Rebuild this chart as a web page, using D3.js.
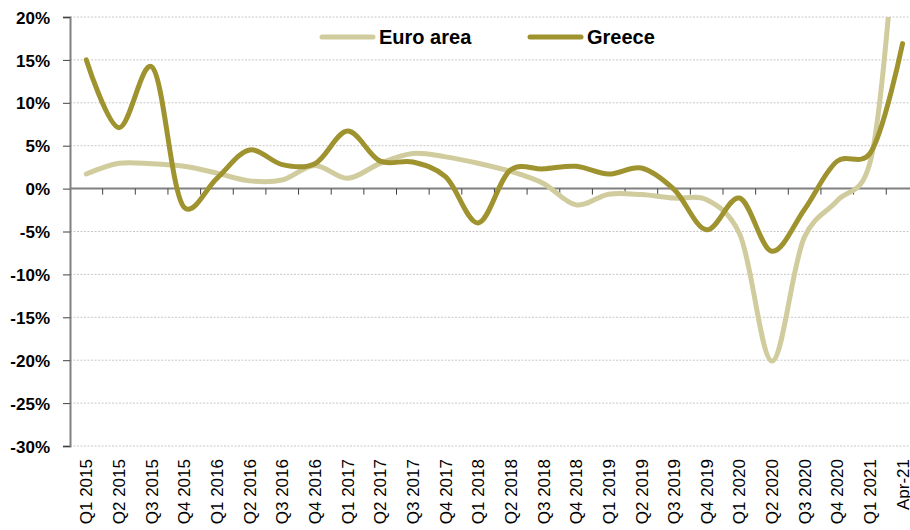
<!DOCTYPE html>
<html>
<head>
<meta charset="utf-8">
<script src="https://cdn.jsdelivr.net/npm/d3@7"></script>
<style>
  body { margin: 0; background: #fff; }
  svg { display: block; }
</style>
</head>
<body>
<div id="chart"></div>
<script>
// categories and series
var quarters = ["Q1 2015","Q2 2015","Q3 2015","Q4 2015","Q1 2016","Q2 2016","Q3 2016","Q4 2016",
  "Q1 2017","Q2 2017","Q3 2017","Q4 2017","Q1 2018","Q2 2018","Q3 2018","Q4 2018",
  "Q1 2019","Q2 2019","Q3 2019","Q4 2019","Q1 2020","Q2 2020","Q3 2020","Q4 2020",
  "Q1 2021","Apr-21"];

var euroArea = [1.7, 2.95, 2.9, 2.6, 1.8, 0.9, 1.0, 2.7, 1.2, 2.95, 4.1, 3.7, 2.95, 2.0, 0.6, -1.9,
  -0.65, -0.7, -1.1, -1.3, -5.2, -20.1, -5.6, -1.4, 3.0, 42];
var greece = [15.0, 7.1, 14.2, -2.2, 1.2, 4.5, 2.8, 2.9, 6.7, 3.2, 3.1, 1.4, -4.0, 2.2, 2.3, 2.6,
  1.7, 2.4, -0.1, -4.8, -1.1, -7.3, -2.4, 3.2, 4.1, 16.9];

var yTicks = [20, 15, 10, 5, 0, -5, -10, -15, -20, -25, -30];

var seriesNames = ["Euro area", "Greece"];
var seriesColors = ["#d1cc9d", "#9f932f"];

var width = 910, height = 530;
var plotLeft = 70, plotTop = 17, plotBottom = 446;
var bandW = 32.65;

var svg = d3.select("#chart").append("svg")
  .attr("width", width)
  .attr("height", height);

var x = d3.scaleBand()
  .domain(quarters)
  .range([plotLeft, plotLeft + bandW * quarters.length])
  .padding(0);

var y = d3.scaleLinear()
  .domain([-30, 20])
  .range([plotBottom, plotTop]);

function cx(d) { return x(d) + x.bandwidth() / 2; }

// gridlines
svg.append("g")
  .selectAll("line")
  .data(yTicks.filter(function(t) { return t != 0; }))
  .enter().append("line")
  .attr("x1", plotLeft)
  .attr("x2", width)
  .attr("y1", function(d) { return y(d); })
  .attr("y2", function(d) { return y(d); })
  .attr("stroke", "#c8c8c8")
  .attr("stroke-width", 1)
  .attr("stroke-dasharray", "2,1.5");

// y axis
var yAxis = d3.axisLeft(y)
  .tickValues(yTicks)
  .tickSize(7)
  .tickFormat(function(d) { return d + "%"; });

var gy = svg.append("g")
  .attr("transform", "translate(" + plotLeft + ",0)")
  .call(yAxis);
gy.select(".domain").attr("stroke", "#808080").attr("stroke-width", 2);
gy.selectAll(".tick line").attr("stroke", "#404040");
gy.selectAll(".tick text")
  .attr("x", -20)
  .attr("dy", "0.36em")
  .style("font-family", "'Liberation Sans', Arial, sans-serif")
  .style("font-weight", "bold")
  .style("font-size", "17px")
  .attr("fill", "#000");

// zero line with ticks between categories
svg.append("line")
  .attr("x1", plotLeft)
  .attr("x2", width)
  .attr("y1", y(0))
  .attr("y2", y(0))
  .attr("stroke", "#808080")
  .attr("stroke-width", 2);

svg.append("g")
  .selectAll("line")
  .data(quarters.slice(1))
  .enter().append("line")
  .attr("x1", function(d) { return x(d); })
  .attr("x2", function(d) { return x(d); })
  .attr("y1", y(0))
  .attr("y2", y(0) + 6)
  .attr("stroke", "#404040")
  .attr("stroke-width", 1);

// category labels
svg.append("g")
  .selectAll("text")
  .data(quarters)
  .enter().append("text")
  .attr("transform", function(d) { return "translate(" + cx(d) + ",459) rotate(-90)"; })
  .attr("text-anchor", "end")
  .attr("dy", "0.36em")
  .style("font-family", "'Liberation Sans', Arial, sans-serif")
  .style("font-size", "17px")
  .text(function(d) { return d; });

// lines
svg.append("clipPath")
  .attr("id", "plotclip")
  .append("rect")
  .attr("x", plotLeft)
  .attr("y", plotTop)
  .attr("width", width - plotLeft)
  .attr("height", plotBottom - plotTop);

var line = d3.line()
  .x(function(d, i) { return cx(quarters[i]); })
  .y(function(d) { return y(d); })
  .curve(d3.curveCatmullRom.alpha(0.25));

var series = [euroArea, greece];
svg.append("g")
  .attr("clip-path", "url(#plotclip)")
  .selectAll("path")
  .data(series)
  .enter().append("path")
  .attr("d", line)
  .attr("fill", "none")
  .attr("stroke", function(d, i) { return seriesColors[i]; })
  .attr("stroke-width", 5)
  .attr("stroke-linecap", "round")
  .attr("stroke-linejoin", "round");

// legend
var legendX = [320, 528];
var leg = svg.append("g")
  .selectAll("g")
  .data(seriesNames)
  .enter().append("g")
  .attr("transform", function(d, i) { return "translate(" + legendX[i] + ",37)"; });

leg.append("line")
  .attr("x1", 2)
  .attr("x2", 53)
  .attr("stroke", function(d, i) { return seriesColors[i]; })
  .attr("stroke-width", 5)
  .attr("stroke-linecap", "round");

leg.append("text")
  .attr("x", 59)
  .attr("dy", "0.36em")
  .style("font-family", "'Liberation Sans Narrow', 'Arial Narrow', sans-serif")
  .style("font-weight", "bold")
  .style("font-size", "20px")
  .text(function(d) { return d; });
</script>
</body>
</html>
